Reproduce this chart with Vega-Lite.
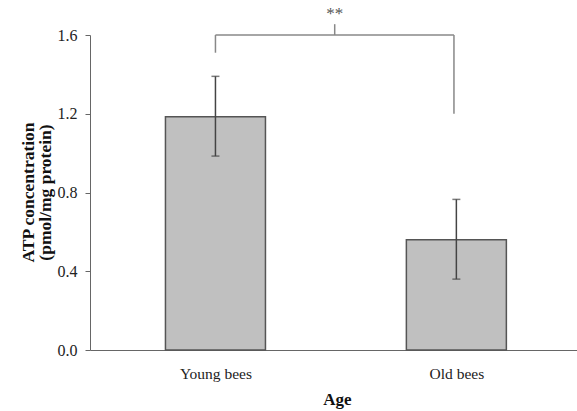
{
  "$schema": "https://vega.github.io/schema/vega-lite/v6.json",
  "width": 487,
  "height": 315,
  "autosize": {"type": "none"},
  "padding": {"left": 90, "top": 35, "right": 0, "bottom": 61},
  "background": "white",
  "config": {
    "view": {"stroke": null},
    "font": "Liberation Serif",
    "axis": {"labelFont": "Liberation Serif", "titleFont": "Liberation Serif", "labelColor": "#222", "titleColor": "#111", "domainColor": "#666", "tickColor": "#666", "grid": false}
  },
  "datasets": {
    "bars": [
      {"group": 1, "label": "Young bees", "mean": 1.185, "lo": 0.985, "hi": 1.39},
      {"group": 2, "label": "Old bees", "mean": 0.56, "lo": 0.36, "hi": 0.765}
    ],
    "bracket": [
      {"x": 1, "x2": 1.99, "y": 1.6, "y2": 1.6},
      {"x": 1, "x2": 1, "y": 1.51, "y2": 1.6},
      {"x": 1.99, "x2": 1.99, "y": 1.2, "y2": 1.6},
      {"x": 1.495, "x2": 1.495, "y": 1.6, "y2": 1.655}
    ],
    "sig": [{"x": 1.495, "y": 1.705, "text": "**"}]
  },
  "layer": [
    {
      "data": {"name": "bars"},
      "mark": {"type": "bar", "width": 100, "fill": "#c0c0c0", "stroke": "#555", "strokeWidth": 1.5},
      "encoding": {
        "x": {
          "field": "group", "type": "quantitative",
          "scale": {"domain": [0.5, 2.48], "nice": false, "zero": false},
          "axis": {
            "values": [1, 2], "ticks": false, "labelPadding": 16, "labelFontSize": 15.5,
            "labelExpr": "datum.value == 1 ? 'Young bees' : 'Old bees'",
            "title": "Age", "titleFontSize": 17, "titleFontWeight": "bold", "titlePadding": 10, "titleX": 247
          }
        },
        "y": {
          "field": "mean", "type": "quantitative",
          "scale": {"domain": [0, 1.6], "nice": false},
          "axis": {
            "values": [0, 0.4, 0.8, 1.2, 1.6], "format": ".1f", "tickSize": 5, "labelPadding": 8, "labelFontSize": 16,
            "title": ["ATP concentration", "(pmol/mg protein)"], "titleFontSize": 17.5, "titleFontWeight": "bold", "titleLineHeight": 17,
            "titleAngle": -90, "titleAlign": "center", "titleBaseline": "top", "titleX": -71, "titleY": 157
          }
        }
      }
    },
    {
      "data": {"name": "bars"},
      "mark": {"type": "rule", "color": "#444", "strokeWidth": 1.5},
      "encoding": {
        "x": {"field": "group", "type": "quantitative"},
        "y": {"field": "lo", "type": "quantitative"},
        "y2": {"field": "hi"}
      }
    },
    {
      "data": {"name": "bars"},
      "mark": {"type": "tick", "orient": "horizontal", "color": "#444", "size": 8, "thickness": 1.5},
      "encoding": {
        "x": {"field": "group", "type": "quantitative"},
        "y": {"field": "lo", "type": "quantitative"}
      }
    },
    {
      "data": {"name": "bars"},
      "mark": {"type": "tick", "orient": "horizontal", "color": "#444", "size": 8, "thickness": 1.5},
      "encoding": {
        "x": {"field": "group", "type": "quantitative"},
        "y": {"field": "hi", "type": "quantitative"}
      }
    },
    {
      "data": {"name": "bracket"},
      "mark": {"type": "rule", "color": "#888", "strokeWidth": 1.5},
      "encoding": {
        "x": {"field": "x", "type": "quantitative"},
        "x2": {"field": "x2"},
        "y": {"field": "y", "type": "quantitative"},
        "y2": {"field": "y2"}
      }
    },
    {
      "data": {"name": "sig"},
      "mark": {"type": "text", "fontSize": 17, "color": "#555", "baseline": "middle", "font": "Liberation Serif"},
      "encoding": {
        "x": {"field": "x", "type": "quantitative"},
        "y": {"field": "y", "type": "quantitative"},
        "text": {"field": "text"}
      }
    }
  ]
}
